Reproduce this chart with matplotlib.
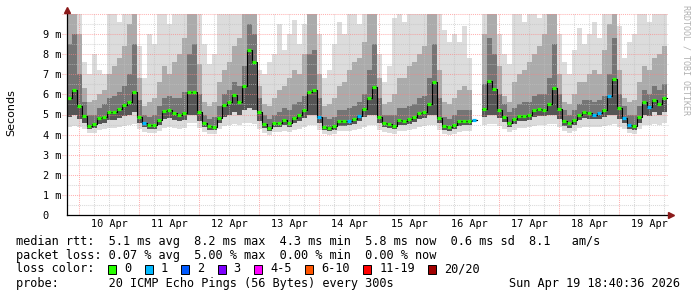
import numpy as np
import pandas as pd
import matplotlib
matplotlib.use("Agg")
import matplotlib.pyplot as plt
import matplotlib.dates as mdates
import matplotlib.transforms as mtrans
from matplotlib.patches import Rectangle

W, H = 697, 297
mono = "DejaVu Sans Mono"

# 2 hour steps, first step starts 9 Apr 19:00
start = "2026-04-09 19:00"
n_steps = 120
nan = np.nan

# median rtt in ms
median = [5.8, 6.2, 5.4, 4.95, 4.45, 4.55, 4.82, 4.9, 5.12, 5.1, 5.28, 5.45, 5.6, 6.1, 4.9, 4.58, 4.46, 4.47, 4.75, 5.17, 5.22, 5.05, 4.98, 5.05,
          6.1, 6.12, 5.1, 4.58, 4.41, 4.4, 4.84, 5.45, 5.6, 5.95, 5.6, 6.4, 8.2, 7.6, 5.1, 4.55, 4.35, 4.6, 4.6, 4.72, 4.6, 4.85, 5.0, 5.2,
          6.1, 6.2, 4.9, 4.4, 4.34, 4.44, 4.66, 4.67, 4.68, 4.78, 4.93, 5.25, 5.8, 6.35, 4.9, 4.57, 4.55, 4.45, 4.74, 4.7, 4.8, 4.87, 5.08, 5.1,
          5.5, 6.6, 4.85, 4.42, 4.37, 4.5, 4.66, 4.68, 4.68, 4.75, nan, 5.26, 6.65, 6.25, 5.2, 4.9, 4.6, 4.78, 4.92, 4.95, 4.97, 5.2, 5.28, 5.22,
          5.5, 6.3, 5.26, 4.68, 4.57, 4.72, 4.97, 5.1, 5.06, 5.0, 5.05, 5.2, 5.9, 6.75, 5.3, 4.85, 4.5, 4.44, 4.9, 5.6, 5.35, 5.7, 5.5, 5.8]

# lost pings (of 20) per step
loss = [0, 0, 0, 0, 0, 0, 0, 0, 0, 0, 0, 0, 0, 0, 0, 1, 0, 0, 0, 0, 0, 0, 0, 0,
        0, 0, 0, 0, 0, 0, 0, 0, 0, 0, 0, 0, 0, 0, 0, 0, 0, 0, 0, 0, 0, 0, 0, 0,
        0, 0, 1, 0, 0, 0, 0, 0, 1, 0, 1, 0, 0, 0, 0, 0, 0, 0, 0, 0, 0, 0, 0, 0,
        0, 0, 0, 0, 0, 0, 0, 0, 0, 1, 0, 0, 0, 0, 0, 0, 0, 0, 0, 0, 0, 0, 0, 0,
        0, 0, 0, 0, 0, 0, 0, 0, 0, 1, 1, 0, 1, 0, 0, 1, 1, 0, 0, 0, 1, 0, 0, 0]

# smoke: spread of the 20 pings
ping_max = [10, 10, 10, 7.6, 7.0, 8.0, 7.2, 7.0, 10, 10, 9.6, 10, 10, 10, 8.4, 6.8, 9.0, 8.5, 10, 10, 9.5, 10, 10, 10,
            10, 10, 10, 8.5, 7.5, 8.0, 10, 10, 10, 10, 10, 10, 10, 10, 7.2, 7.0, 7.6, 8.0, 9.5, 8.2, 9.0, 9.7, 8.5, 9.5,
            10, 10, 9.0, 6.8, 7.2, 8.5, 9.6, 9.0, 10, 10, 9.5, 10, 10, 10, 8.0, 6.6, 7.4, 9.8, 10, 9.6, 10, 10, 10, 10,
            10, 10, 10, 9.2, 8.6, 9.0, 8.6, 9.4, 7.8, 9.0, nan, 10, 10, 10, 9.0, 8.0, 7.5, 10, 10, 9.6, 10, 10, 9.8, 10,
            10, 10, 9.0, 7.6, 7.0, 8.2, 9.3, 8.5, 9.0, 9.6, 8.8, 10, 10, 10, 9.4, 7.8, 8.6, 9.0, 10, 10, 9.6, 10, 10, 10]
ping_mid = [10, 10, 9.0, 6.3, 5.6, 5.7, 6.0, 6.2, 7.0, 7.4, 7.8, 8.4, 9.5, 10, 6.8, 5.4, 5.6, 5.8, 6.6, 7.4, 7.0, 7.6, 8.0, 8.8,
            10, 10, 7.5, 5.6, 5.4, 5.6, 6.6, 7.2, 7.6, 8.4, 8.8, 10, 10, 10, 6.4, 5.5, 5.4, 5.8, 6.2, 6.4, 6.8, 7.2, 7.0, 8.0,
            10, 10, 7.0, 5.4, 5.5, 5.8, 6.4, 6.6, 7.2, 7.6, 7.8, 8.6, 10, 10, 6.8, 5.5, 5.6, 6.0, 6.8, 6.8, 7.4, 7.6, 8.0, 8.4,
            10, 10, 7.2, 5.6, 5.5, 5.8, 6.2, 6.4, 6.2, 6.6, nan, 9.0, 10, 10, 7.4, 5.9, 5.6, 6.6, 7.0, 7.2, 7.6, 8.0, 8.4, 9.0,
            10, 10, 7.0, 5.6, 5.5, 6.0, 6.6, 6.6, 7.0, 7.2, 7.0, 8.2, 9.5, 10, 7.2, 5.8, 5.6, 5.7, 6.6, 7.4, 7.2, 7.8, 8.0, 8.4]
ping_hi = [8.5, 9.0, 7.0, 5.6, 5.0, 5.0, 5.3, 5.5, 5.8, 5.9, 6.1, 6.4, 7.0, 8.5, 5.7, 5.0, 4.9, 5.0, 5.4, 5.8, 5.9, 5.8, 5.8, 6.1,
           8.0, 8.5, 6.0, 5.0, 4.8, 4.9, 5.4, 6.0, 6.2, 6.6, 6.4, 7.4, 9.5, 9.0, 5.8, 5.0, 4.8, 5.0, 5.1, 5.3, 5.2, 5.5, 5.6, 5.9,
           8.0, 8.2, 5.8, 4.9, 4.8, 4.9, 5.2, 5.2, 5.3, 5.4, 5.6, 6.0, 7.2, 8.5, 5.8, 5.0, 5.0, 5.0, 5.3, 5.3, 5.4, 5.5, 5.8, 5.9,
           6.8, 8.5, 5.8, 4.9, 4.8, 5.0, 5.2, 5.2, 5.2, 5.3, nan, 6.5, 8.8, 8.0, 6.0, 5.5, 5.1, 5.3, 5.5, 5.6, 5.6, 5.9, 6.0, 6.0,
           6.8, 8.5, 6.0, 5.2, 5.0, 5.2, 5.5, 5.7, 5.7, 5.6, 5.7, 5.9, 7.0, 8.8, 6.0, 5.4, 5.0, 5.0, 5.4, 6.2, 6.0, 6.4, 6.2, 6.5]
ping_lo = [4.9, 5.0, 4.8, 4.6, 4.3, 4.35, 4.55, 4.6, 4.75, 4.75, 4.85, 4.95, 5.0, 5.1, 4.6, 4.4, 4.3, 4.3, 4.5, 4.8, 4.85, 4.75, 4.7, 4.75,
           5.0, 5.0, 4.7, 4.4, 4.25, 4.25, 4.6, 4.9, 5.0, 5.1, 5.0, 5.2, 5.3, 5.2, 4.7, 4.35, 4.2, 4.4, 4.4, 4.5, 4.4, 4.6, 4.7, 4.85,
           5.0, 5.0, 4.6, 4.25, 4.2, 4.25, 4.45, 4.45, 4.5, 4.55, 4.7, 4.9, 5.0, 5.0, 4.6, 4.4, 4.35, 4.3, 4.5, 4.5, 4.55, 4.65, 4.8, 4.85,
           5.0, 5.0, 4.6, 4.25, 4.2, 4.3, 4.45, 4.5, 4.5, 4.55, nan, 4.9, 5.0, 5.0, 4.85, 4.65, 4.4, 4.55, 4.7, 4.7, 4.75, 4.9, 4.95, 4.95,
           5.0, 5.0, 4.8, 4.45, 4.35, 4.5, 4.75, 4.85, 4.8, 4.8, 4.8, 4.9, 5.0, 5.0, 4.8, 4.6, 4.3, 4.25, 4.6, 5.0, 4.95, 5.1, 5.0, 5.1]
ping_min = [4.4, 4.45, 4.4, 4.3, 4.1, 4.1, 4.25, 4.3, 4.35, 4.35, 4.4, 4.45, 4.5, 4.55, 4.3, 4.15, 4.1, 4.1, 4.2, 4.35, 4.4, 4.35, 4.3, 4.35,
            4.6, 4.6, 4.35, 4.15, 4.05, 4.05, 4.3, 4.45, 4.5, 4.55, 4.5, 4.6, 4.6, 4.55, 4.3, 4.1, 4.0, 4.15, 4.15, 4.2, 4.15, 4.25, 4.3, 4.4,
            4.5, 4.5, 4.25, 4.05, 4.0, 4.05, 4.2, 4.2, 4.2, 4.25, 4.3, 4.4, 4.5, 4.5, 4.25, 4.15, 4.1, 4.05, 4.2, 4.2, 4.25, 4.3, 4.4, 4.45,
            4.5, 4.5, 4.25, 4.05, 4.0, 4.05, 4.15, 4.2, 4.2, 4.25, nan, 4.5, 4.55, 4.55, 4.45, 4.3, 4.15, 4.25, 4.35, 4.35, 4.4, 4.45, 4.5, 4.5,
            4.55, 4.55, 4.4, 4.2, 4.1, 4.2, 4.35, 4.4, 4.4, 4.4, 4.4, 4.45, 4.5, 4.55, 4.4, 4.3, 4.1, 4.05, 4.3, 4.5, 4.5, 4.55, 4.5, 4.6]

day_labels = ["10 Apr", "11 Apr", "12 Apr", "13 Apr", "14 Apr", "15 Apr", "16 Apr", "17 Apr", "18 Apr", "19 Apr"]
y_ticks = [0, 1, 2, 3, 4, 5, 6, 7, 8, 9]
y_tick_labels = ["0", "1 m", "2 m", "3 m", "4 m", "5 m", "6 m", "7 m", "8 m", "9 m"]

loss_legend = ["0", "1", "2", "3", "4-5", "6-10", "11-19", "20/20"]
loss_legend_colors = ["#26ff00", "#00b8ff", "#0059ff", "#7e00ff", "#ff00ff", "#ff5500", "#ff0000", "#a10000"]
loss_step_colors = {0: "#26ff00", 1: "#00b8ff", 2: "#0059ff", 3: "#7e00ff"}

rtt_line = "median rtt:  5.1 ms avg  8.2 ms max  4.3 ms min  5.8 ms now  0.6 ms sd  8.1   am/s"
loss_line = "packet loss: 0.07 % avg  5.00 % max  0.00 % min  0.00 % now"
probe_line = "probe:       20 ICMP Echo Pings (56 Bytes) every 300s"
stamp = "Sun Apr 19 18:40:36 2026"

fig = plt.figure(figsize=(W / 100, H / 100), dpi=100)
fig.patch.set_facecolor("white")
ax = fig.add_axes([67 / W, (H - 215) / H, 601 / W, 201 / H])

edges = mdates.date2num(pd.date_range(start, periods=n_steps + 1, freq="2h"))
centers = (edges[:-1] + edges[1:]) / 2
half = (edges[1] - edges[0]) * 0.37


def stepped(v):
    v = np.asarray(v, dtype=float)
    return np.append(v, v[-1])


# smoke
ax.fill_between(edges, stepped(ping_min), stepped(ping_max), step="post", color="#dcdcdc", lw=0, zorder=1)
ax.fill_between(edges, stepped(ping_lo), stepped(ping_mid), step="post", color="#ababab", lw=0, zorder=1.1)
ax.fill_between(edges, stepped(ping_lo), stepped(ping_hi), step="post", color="#757575", lw=0, zorder=1.2)
ax.fill_between(edges, stepped(ping_lo), stepped(median), step="post", color="#555555", lw=0, zorder=1.3)

x0 = mdates.date2num(pd.Timestamp("2026-04-09 19:12"))
x1 = mdates.date2num(pd.Timestamp("2026-04-19 19:36"))
ax.set_xlim(x0, x1)
ax.set_ylim(0, 10)

# grid
for t in pd.date_range("2026-04-10 00:00", "2026-04-19 18:00", freq="6h"):
    major = t.hour == 0
    ax.axvline(mdates.date2num(t), color="#ff8080" if major else "#c0c0c0", alpha=0.6,
               lw=0.75, ls=(0, (1, 1)), zorder=2)
for v in np.arange(0.5, 10.01, 0.5):
    major = float(v).is_integer()
    ax.axhline(v, xmin=-5 / 601 if major else 0, xmax=1, clip_on=False,
               color="#ff8080" if major else "#c0c0c0", alpha=0.6, lw=0.75, ls=(0, (1, 1)), zorder=2)

# median with loss colour
ax.step(edges, stepped(median), where="post", color="black", lw=0.8, zorder=3)
ax.hlines(median, centers - half, centers + half, colors=[loss_step_colors[l] for l in loss], lw=2.3, zorder=4)

# axes lines
for s in ["top", "right"]:
    ax.spines[s].set_visible(False)
ax.spines["left"].set_linewidth(0.9)
ax.spines["bottom"].set_linewidth(0.9)
ax.spines["left"].set_zorder(5)
ax.spines["bottom"].set_zorder(5)
up = mtrans.offset_copy(ax.transAxes, fig=fig, x=0, y=4, units="dots")
right = mtrans.offset_copy(ax.transAxes, fig=fig, x=3, y=0, units="dots")
ax.plot([0], [1], marker="^", ms=4, color="#8b1a1a", transform=up, clip_on=False, zorder=6)
ax.plot([1], [0], marker=">", ms=4, color="#8b1a1a", transform=right, clip_on=False, zorder=6)

ax.set_yticks(y_ticks)
ax.set_yticklabels(y_tick_labels, family=mono, fontsize=7.4)
for lab in ax.get_yticklabels():
    lab.set_horizontalalignment("left")
ax.tick_params(axis="y", length=0, pad=17.5)

noons = mdates.date2num(pd.date_range("2026-04-10 12:00", periods=len(day_labels), freq="D"))
ax.set_xticks(noons)
ax.set_xticklabels(day_labels, family=mono, fontsize=7.4)
ax.tick_params(axis="x", length=0, pad=3.0)

fig.text(11 / W, 1 - 113 / H, "Seconds", rotation=90, ha="center", va="center", fontsize=8, family="DejaVu Sans")
fig.text(686 / W, 1 - 5 / H, "RRDTOOL / TOBI OETIKER", rotation=270, ha="center", va="top",
         fontsize=6, family=mono, color="#b0b0b0")

# legend block
cw = 7.16
fs = 8.56


def fx(px):
    return px / W


def fy(py):
    return 1 - py / H


fig.text(fx(16), fy(241), rtt_line, ha="left", va="center", family=mono, fontsize=fs)
fig.text(fx(16), fy(255), loss_line, ha="left", va="center", family=mono, fontsize=fs)
fig.text(fx(16), fy(269), "loss color:", ha="left", va="center", family=mono, fontsize=fs)
fig.text(fx(16), fy(283), probe_line, ha="left", va="center", family=mono, fontsize=fs)
fig.text(fx(680), fy(283), stamp, ha="right", va="center", family=mono, fontsize=fs)

col = 13.2
for lab, c in zip(loss_legend, loss_legend_colors):
    bx = 13.8 + col * cw
    fig.add_artist(Rectangle((fx(bx), fy(273.5)), 8 / W, 9 / H, transform=fig.transFigure,
                             facecolor=c, edgecolor="black", lw=0.7))
    col += 2.05
    fig.text(fx(15 + col * cw), fy(269), lab, ha="left", va="center", family=mono, fontsize=fs)
    col += len(lab) + 2.05

fig.savefig("out.png", dpi=100, facecolor="white")
